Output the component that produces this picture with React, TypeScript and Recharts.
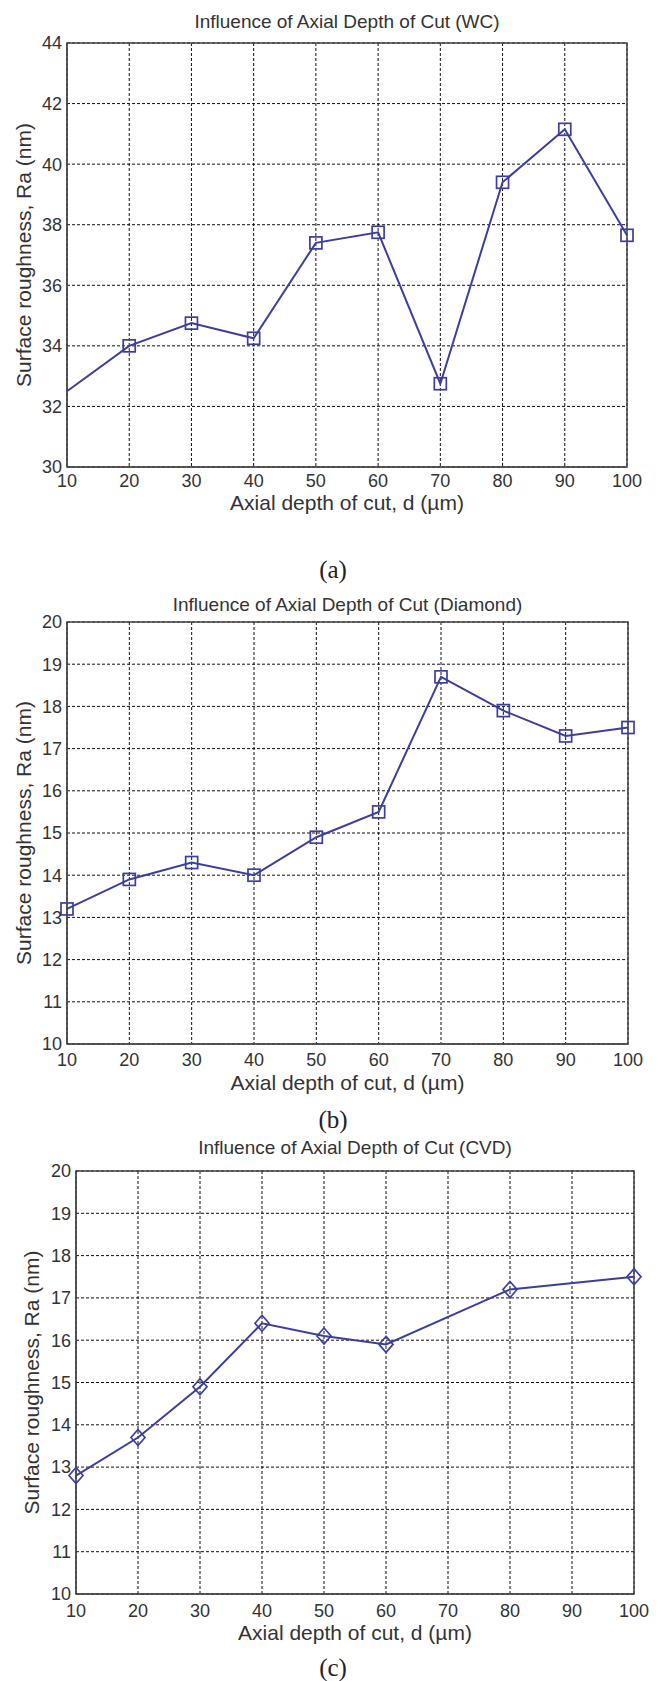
import React from "react";
import { CartesianGrid, Line, LineChart, ReferenceArea, XAxis, YAxis } from "recharts";

// axial depth of cut, d (µm)
const depths = [10, 20, 30, 40, 50, 60, 70, 80, 90, 100];
const cvdDepths = [10, 20, 30, 40, 50, 60, 80, 100];

// surface roughness Ra (nm)
const wcRa = [32.5, 34.0, 34.75, 34.25, 37.4, 37.75, 32.75, 39.4, 41.15, 37.65];
const diamondRa = [13.2, 13.9, 14.3, 14.0, 14.9, 15.5, 18.7, 17.9, 17.3, 17.5];
const cvdRa = [12.8, 13.7, 14.9, 16.4, 16.1, 15.9, 17.2, 17.5];

const xTicks = [10, 20, 30, 40, 50, 60, 70, 80, 90, 100];
const wcTicks = [30, 32, 34, 36, 38, 40, 42, 44];
const tenTicks = [10, 11, 12, 13, 14, 15, 16, 17, 18, 19, 20];

const BLUE = "#3b3f9e";
const TEXT = "#333";
const FONT = "'Liberation Sans', Arial, sans-serif";

const toRows = (xs: number[], ys: number[]) => xs.map((d, i) => ({ d, ra: ys[i] }));

const squareDot = (skipFirst: boolean) => (p: any) => {
  const { cx, cy, index } = p;
  if (cx == null || cy == null || (skipFirst && index === 0)) return <g key={index} />;
  return <rect key={index} x={cx - 6} y={cy - 6} width={12} height={12} fill="none" stroke={BLUE} strokeWidth={1.7} />;
};

const diamondDot = (p: any) => {
  const { cx, cy, index } = p;
  if (cx == null || cy == null) return <g key={index} />;
  return (
    <path
      key={index}
      d={`M${cx},${cy - 8} L${cx + 7},${cy} L${cx},${cy + 8} L${cx - 7},${cy} Z`}
      fill="none"
      stroke={BLUE}
      strokeWidth={1.7}
    />
  );
};

interface PanelProps {
  top: number;
  height: number;
  margin: { top: number; right: number; bottom: number; left: number };
  rows: Array<{ d: number; ra: number }>;
  yDomain: [number, number];
  yTicks: number[];
  dot: any;
  title: string;
  titleY: number;
  caption: string;
  captionY: number;
  yLabelX: number;
  xTickGap: number;
  xLabelDy: number;
}

function Panel(props: PanelProps) {
  const { top, height, margin, rows, yDomain, yTicks, dot, title, titleY, caption, captionY, yLabelX, xTickGap, xLabelDy } = props;
  const plotLeft = margin.left + 60;
  const plotRight = 658 - margin.right;
  return (
    <>
      <div
        style={{
          position: "absolute",
          top: titleY - 11,
          left: plotLeft,
          width: plotRight - plotLeft,
          textAlign: "center",
          fontFamily: FONT,
          fontSize: 19,
          lineHeight: "22px",
          color: TEXT,
        }}
      >
        {title}
      </div>
      <div style={{ position: "absolute", top, left: 0 }}>
        <LineChart width={658} height={height} data={rows} margin={margin}>
          <CartesianGrid stroke="#111" strokeDasharray="3 2" strokeWidth={1} />
          <XAxis
            dataKey="d"
            type="number"
            domain={[10, 100]}
            ticks={xTicks}
            height={50}
            tickLine={false}
            tickSize={0}
            tickMargin={xTickGap}
            axisLine={{ stroke: "#444" }}
            tick={{ fill: TEXT, fontSize: 18, fontFamily: FONT }}
            label={{
              content: (lp: any) => (
                <text
                  x={(plotLeft + plotRight) / 2}
                  y={lp.viewBox.y + xLabelDy}
                  textAnchor="middle"
                  fill={TEXT}
                  fontSize={21}
                  fontFamily={FONT}
                >
                  Axial depth of cut, d (µm)
                </text>
              ),
            }}
          />
          <YAxis
            type="number"
            domain={yDomain}
            ticks={yTicks}
            width={60}
            tickLine={false}
            tickSize={0}
            tickMargin={5}
            axisLine={{ stroke: "#444" }}
            tick={{ fill: TEXT, fontSize: 18, fontFamily: FONT }}
            label={{
              content: (lp: any) => {
                const cy = lp.viewBox.y + lp.viewBox.height / 2;
                return (
                  <text
                    x={yLabelX}
                    y={cy}
                    transform={`rotate(-90 ${yLabelX} ${cy})`}
                    textAnchor="middle"
                    dominantBaseline="central"
                    fill={TEXT}
                    fontSize={21}
                    fontFamily={FONT}
                  >
                    Surface roughness, Ra (nm)
                  </text>
                );
              },
            }}
          />
          <ReferenceArea x1={10} x2={100} y1={yDomain[0]} y2={yDomain[1]} fill="none" stroke="#444" strokeWidth={1.5} />
          <Line
            dataKey="ra"
            stroke={BLUE}
            strokeWidth={2}
            dot={dot}
            activeDot={false}
            isAnimationActive={false}
          />
        </LineChart>
      </div>
      <div
        style={{
          position: "absolute",
          top: captionY - 15,
          left: 283,
          width: 100,
          textAlign: "center",
          fontFamily: "'Liberation Serif', 'Times New Roman', serif",
          fontSize: 25,
          lineHeight: "30px",
          color: "#222",
        }}
      >
        {caption}
      </div>
    </>
  );
}

export default function App() {
  return (
    <div style={{ position: "absolute", top: 0, left: 0, width: 658, height: 1681, background: "#fff", overflow: "hidden" }}>
      <Panel
        top={0}
        height={520}
        margin={{ top: 43, right: 31, bottom: 3, left: 7 }}
        rows={toRows(depths, wcRa)}
        yDomain={[30, 44]}
        yTicks={wcTicks}
        dot={squareDot(true)}
        title="Influence of Axial Depth of Cut (WC)"
        titleY={22}
        caption="(a)"
        captionY={570}
        yLabelX={23}
        xTickGap={7}
        xLabelDy={43}
      />
      <Panel
        top={580}
        height={520}
        margin={{ top: 42, right: 30, bottom: 6, left: 7 }}
        rows={toRows(depths, diamondRa)}
        yDomain={[10, 20]}
        yTicks={tenTicks}
        dot={squareDot(false)}
        title="Influence of Axial Depth of Cut (Diamond)"
        titleY={605}
        caption="(b)"
        captionY={1120}
        yLabelX={23}
        xTickGap={9}
        xLabelDy={46}
      />
      <Panel
        top={1130}
        height={551}
        margin={{ top: 41, right: 24, bottom: 37, left: 16 }}
        rows={toRows(cvdDepths, cvdRa)}
        yDomain={[10, 20]}
        yTicks={tenTicks}
        dot={diamondDot}
        title="Influence of Axial Depth of Cut (CVD)"
        titleY={1148}
        caption="(c)"
        captionY={1668}
        yLabelX={31}
        xTickGap={10}
        xLabelDy={46}
      />
    </div>
  );
}
